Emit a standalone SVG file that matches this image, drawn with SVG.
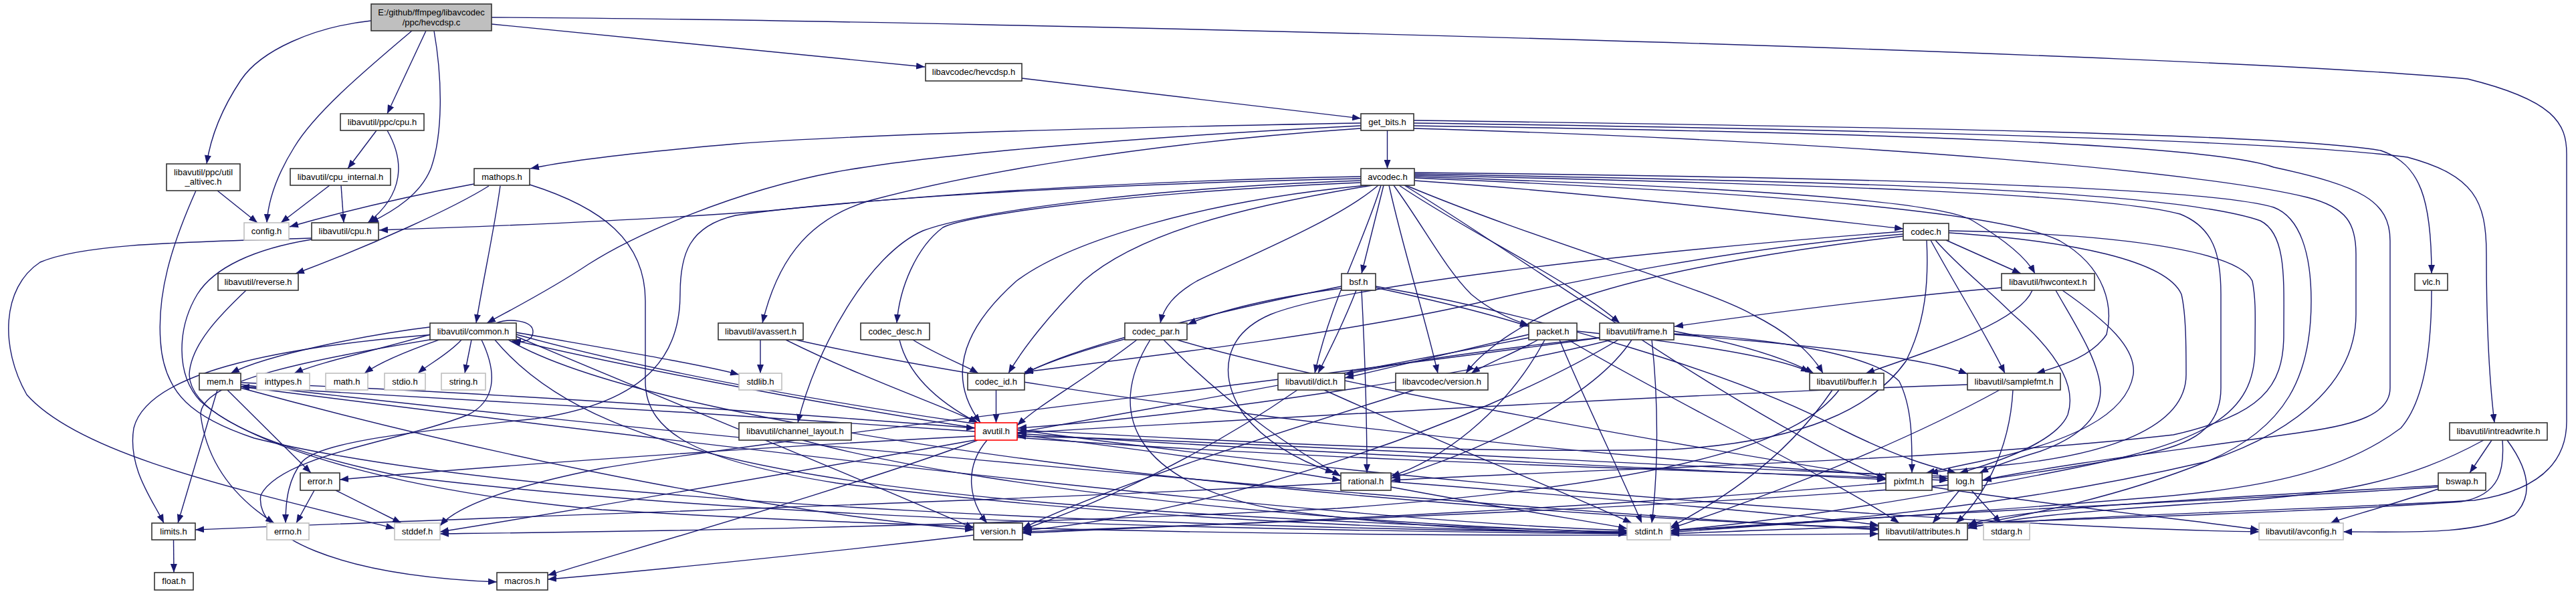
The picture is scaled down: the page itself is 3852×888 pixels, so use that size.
<svg xmlns="http://www.w3.org/2000/svg" width="3852" height="888" viewBox="0 0 3852 888">
<style>
.n rect{fill:#ffffff;stroke:#333333;stroke-width:1.6}
.s rect{fill:#ffffff;stroke:#bfbfbf;stroke-width:1.6}
.r rect{fill:#bfbfbf;stroke:#333333;stroke-width:1.6}
.m rect{fill:#ffffff;stroke:#ff0000;stroke-width:1.6}
text{font-family:"Liberation Sans",Arial,sans-serif;font-size:13px;fill:#000000;text-anchor:middle}
#edges path{fill:none;stroke:#191970;stroke-width:1.4;marker-end:url(#a)}
</style>
<defs>
<marker id="a" markerWidth="13" markerHeight="10" refX="13" refY="5" orient="auto" markerUnits="userSpaceOnUse"><path d="M0,0 L13,5 L0,10 z" fill="#191970" stroke="none"/></marker>
</defs>
<rect x="0" y="0" width="3852" height="888" fill="#ffffff"/>
<g id="edges">
<path d="M555,31 C470,40 390,75 360,120 C330,165 315,205 309,245"/>
<path d="M616,46 C540,110 470,170 440,220 C412,265 401,300 399,333"/>
<path d="M637,46 L579,170"/>
<path d="M649,46 C662,120 662,200 645,250 C630,290 590,315 553,333"/>
<path d="M735,36 L1383,100"/>
<path d="M735,26 C1500,30 3300,80 3690,118 C3820,150 3838,185 3838,230 L3838,630 C3838,700 3785,735 3700,748 C3400,765 3050,772 2943,788"/>
<path d="M1528,117 L2035,177"/>
<path d="M563,195 L520,252"/>
<path d="M579,195 C605,240 605,290 550,333"/>
<path d="M493,277 L420,333"/>
<path d="M510,277 L514,333"/>
<path d="M325,285 L385,333"/>
<path d="M293,285 C255,370 235,440 240,510 C245,590 290,625 380,655 C800,760 1900,792 2433,796"/>
<path d="M466,356 C300,362 130,362 60,392 C2,430 0,520 40,590 C120,680 350,730 590,790"/>
<path d="M466,358 C380,372 320,400 295,440 C265,490 262,560 300,600 C380,670 600,735 900,762 C1600,805 2400,802 2809,798"/>
<path d="M368,434 C330,470 285,515 283,560 C285,620 400,670 600,712 C1200,785 2000,794 2433,798"/>
<path d="M709,275 C600,295 500,320 433,339"/>
<path d="M731,278 C680,310 560,365 442,409"/>
<path d="M748,278 C738,350 722,420 712,483"/>
<path d="M792,276 C900,310 965,360 965,450 L965,570 C965,650 1050,690 1250,722 C1700,780 2200,793 2433,797"/>
<path d="M2035,184 C1700,190 1300,200 1100,215 C950,228 850,240 793,252"/>
<path d="M2035,188 C1700,205 1400,230 1250,257 C1100,285 950,350 880,395 C820,435 760,465 728,483"/>
<path d="M2035,192 C1700,215 1450,260 1300,300 C1200,330 1160,400 1140,483"/>
<path d="M2074.5,195 L2074.5,252"/>
<path d="M2114,180 C2700,188 3400,198 3560,225 C3620,245 3636,300 3636,409"/>
<path d="M2114,184 C2700,192 3400,208 3600,235 C3700,262 3718,300 3718,380 C3718,520 3725,590 3730,632"/>
<path d="M2114,188 C2800,198 3300,215 3400,250 C3530,278 3574,300 3574,360 L3574,580 C3574,620 3520,635 3450,645 C3300,668 3100,690 2964,718"/>
<path d="M2114,192 C2800,212 3300,258 3450,295 C3510,310 3523,335 3523,380 L3523,470 C3523,560 3450,640 3300,690 C3000,760 2700,784 2498,793"/>
<path d="M2035,264 C1600,272 1300,300 1150,315 C950,330 750,338 567,344"/>
<path d="M2035,267 C1600,276 1250,300 1100,322 C1030,338 1017,380 1017,440 C1017,520 980,600 800,626 C620,645 480,660 452,690 C432,715 427,745 427,782"/>
<path d="M2035,270 C1700,282 1450,318 1380,345 C1300,380 1220,520 1193,632"/>
<path d="M2035,273 C1700,287 1450,320 1410,340 C1370,370 1345,430 1341,483"/>
<path d="M2045,277 C1800,300 1600,360 1520,420 C1430,500 1420,570 1466,632"/>
<path d="M2052,277 C1850,310 1700,350 1620,420 C1570,470 1530,520 1508,558"/>
<path d="M2061,277 C2000,330 1850,390 1790,420 C1755,440 1740,460 1735,483"/>
<path d="M2065,277 C2040,360 1990,450 1966,558"/>
<path d="M2069,277 L2036,409"/>
<path d="M2077,277 C2100,380 2130,470 2150,558"/>
<path d="M2084,277 C2130,340 2160,400 2200,440 C2230,465 2260,478 2286,486"/>
<path d="M2092,277 C2200,350 2350,420 2422,483"/>
<path d="M2102,277 C2300,360 2550,430 2620,470 C2680,500 2710,530 2726,558"/>
<path d="M2115,270 C2400,290 2650,320 2846,342"/>
<path d="M2115,264 C2600,280 2900,300 2950,330 C3000,360 3030,385 3043,409"/>
<path d="M2115,266 C2700,290 3000,320 3080,360 C3150,400 3160,460 3150,500 C3130,530 3090,545 3045,558"/>
<path d="M2115,262 C2700,275 3150,290 3260,320 C3310,340 3321,380 3321,440 L3321,580 C3321,640 3280,665 3200,680 C3100,700 3000,712 2965,718"/>
<path d="M2115,260 C2800,272 3250,285 3380,330 C3420,350 3415,420 3415,500 C3415,580 3380,620 3250,650 C2900,690 2400,700 2081,718"/>
<path d="M2115,258 C2800,265 3300,280 3400,310 C3440,325 3456,380 3456,450 C3456,560 3420,640 3300,690 C3150,750 3000,775 2943,786"/>
<path d="M2100,277 C2300,400 2600,620 2820,716"/>
<path d="M2910,359 L3022,409"/>
<path d="M2881,359 C2884,420 2880,480 2850,540 C2800,610 2700,660 2500,672 C2100,680 1700,650 1522,643"/>
<path d="M2887,359 C2920,420 2970,500 2998,558"/>
<path d="M2894,359 C2930,400 2970,430 3010,470 C3080,530 3105,580 3092,620 C3075,660 2990,690 2930,707"/>
<path d="M2846,353 C2700,370 2500,400 2370,443 C2280,480 2220,520 2192,558"/>
<path d="M2846,350 C2600,370 2350,420 2200,455 C2000,500 1700,535 1532,556"/>
<path d="M2846,346 C2400,380 2000,430 1900,470 C1830,500 1820,560 1860,620 C1900,670 1960,695 1995,707"/>
<path d="M2914,348 C3100,360 3240,390 3262,440 C3269,470 3269,520 3269,560 C3269,640 3150,680 3000,695 C2950,700 2910,703 2885,707"/>
<path d="M2914,345 C3200,350 3350,380 3368,420 C3374,450 3372,480 3372,520 C3372,620 3300,660 3100,700 C2800,760 2600,785 2498,793"/>
<path d="M3039,434 C3020,480 2900,520 2790,558"/>
<path d="M2993,430 C2880,440 2700,460 2504,488"/>
<path d="M3074,434 C3100,480 3140,540 3141,584 C3140,630 3100,657 3050,675 C3000,690 2975,700 2960,707"/>
<path d="M3084,434 C3150,480 3195,520 3190,560 C3180,620 3100,660 2960,690 C2920,698 2900,703 2880,707"/>
<path d="M3636,434 C3636,520 3625,600 3590,640 C3510,700 3400,730 3200,745 C2900,770 2700,780 2498,796"/>
<path d="M3726,658 L3693,707"/>
<path d="M3749,658 C3780,700 3790,740 3760,770 C3700,800 3600,795 3504,795"/>
<path d="M3714,658 C3600,720 3500,740 3300,752 C3100,765 3000,775 2943,790"/>
<path d="M3742,658 C3745,700 3740,740 3680,750 C3400,770 2800,785 2498,798"/>
<path d="M3646,731 C3560,760 3500,775 3485,782"/>
<path d="M3646,728 C3400,745 2800,770 2498,794"/>
<path d="M3646,726 C3300,745 3000,760 2943,785"/>
<path d="M2392,505 C2000,560 1200,650 900,700 C750,730 680,760 658,786"/>
<path d="M2470,508 C2480,600 2480,700 2470,782"/>
<path d="M2410,508 C2200,560 1800,620 1522,640"/>
<path d="M2503,495 C2580,510 2660,530 2712,558"/>
<path d="M2400,504 C2250,520 2100,540 2011,560"/>
<path d="M2440,508 C2380,600 2200,680 2080,715"/>
<path d="M2503,500 C2700,515 2880,535 2942,559"/>
<path d="M2503,499 C2650,505 2800,530 2840,570 C2860,610 2859,660 2859,707"/>
<path d="M2420,508 C2200,640 1800,770 1530,793"/>
<path d="M2286,505 C1800,600 1000,740 658,795"/>
<path d="M2332,508 C2370,600 2420,700 2455,782"/>
<path d="M2345,508 C2500,600 2750,720 2840,782"/>
<path d="M2358,495 C2500,510 2650,530 2706,556"/>
<path d="M2286,500 C2200,520 2100,545 2011,565"/>
<path d="M2310,508 C2250,620 2150,690 2080,712"/>
<path d="M2300,508 C2260,530 2220,545 2200,558"/>
<path d="M2028,434 C2010,480 1990,520 1971,558"/>
<path d="M2057,428 C2300,470 2600,560 2750,640 C2850,690 2900,700 2925,707"/>
<path d="M2036,434 C2042,550 2044,650 2044,707"/>
<path d="M2006,428 C1800,470 1600,520 1530,560"/>
<path d="M2006,431 C1900,445 1820,465 1776,485"/>
<path d="M2057,430 C2150,450 2230,470 2286,488"/>
<path d="M1720,508 C1650,620 1700,720 1900,760 C2100,790 2300,795 2433,797"/>
<path d="M1700,508 C1620,570 1560,600 1521,636"/>
<path d="M1740,508 C1850,620 1950,680 2005,712"/>
<path d="M1760,508 C2000,580 2600,680 2820,715"/>
<path d="M1690,505 C1630,520 1570,540 1532,558"/>
<path d="M1345,508 C1360,570 1420,610 1462,632"/>
<path d="M1365,508 C1400,530 1440,545 1463,558"/>
<path d="M1489.5,583 L1489.5,632"/>
<path d="M2115,583 C1900,650 1650,730 1529,790"/>
<path d="M1980,583 C2150,660 2350,740 2440,782"/>
<path d="M1940,583 C1800,680 1650,750 1529,792"/>
<path d="M2750,583 C2700,650 2550,720 2000,760 C1400,790 900,795 658,798"/>
<path d="M2740,583 C2660,700 2550,760 2498,788"/>
<path d="M2942,575 C2500,590 2000,620 1522,647"/>
<path d="M3010,583 C3005,680 2960,750 2925,782"/>
<path d="M2990,583 C2850,660 2650,740 2498,790"/>
<path d="M1200,658 C1500,740 2100,790 2433,795"/>
<path d="M1460,640 C1200,600 900,540 766,508"/>
<path d="M1458,652 C1100,670 700,700 508,717"/>
<path d="M1521,650 C1700,670 1900,700 2005,718"/>
<path d="M1476,658 C1440,700 1450,750 1476,782"/>
<path d="M1462,658 C1300,720 950,820 819,860"/>
<path d="M1458,645 C1100,620 600,590 360,578"/>
<path d="M1521,654 C2000,690 2600,705 2913,718"/>
<path d="M1521,648 C2000,680 2500,700 2820,717"/>
<path d="M742,483 C760,476 797,478 797,496 C797,510 780,513 765,510"/>
<path d="M650,488 C550,500 400,530 345,558"/>
<path d="M660,495 C580,520 480,540 440,558"/>
<path d="M680,500 C620,520 570,540 545,558"/>
<path d="M690,508 C670,530 640,545 625,558"/>
<path d="M705,508 L695,558"/>
<path d="M772,497 C900,520 1050,545 1105,560"/>
<path d="M650,500 C400,520 220,560 200,640 C190,700 230,750 245,782"/>
<path d="M660,505 C450,540 300,570 300,620 C310,700 360,750 410,782"/>
<path d="M740,508 C900,700 1300,760 2433,796"/>
<path d="M760,508 C1000,650 2000,760 2809,790"/>
<path d="M720,508 C745,560 740,600 700,620 C600,660 420,680 390,740 C380,800 500,860 743,870"/>
<path d="M772,503 C1000,600 1300,720 1456,790"/>
<path d="M772,500 C1500,700 3000,790 3378,795"/>
<path d="M325,583 L266,782"/>
<path d="M340,583 L465,707"/>
<path d="M360,575 C1000,650 2200,760 2809,792"/>
<path d="M360,578 C1000,660 2000,780 2433,793"/>
<path d="M360,572 C800,590 1200,620 1458,640"/>
<path d="M360,580 C800,700 1200,770 1456,792"/>
<path d="M470,733 L443,782"/>
<path d="M502,733 L600,782"/>
<path d="M2080,728 C2250,760 2380,780 2433,790"/>
<path d="M2005,722 C1500,750 800,770 292,792"/>
<path d="M2080,720 C2400,745 2700,770 2809,785"/>
<path d="M2948,733 L2992,782"/>
<path d="M2930,733 L2890,782"/>
<path d="M2913,712 C2500,700 1900,660 1521,652"/>
<path d="M2913,725 C2500,760 1800,785 1529,795"/>
<path d="M2889,728 C3100,760 3300,780 3378,792"/>
<path d="M2820,722 C2400,760 1800,785 1529,797"/>
<path d="M1456,800 C1200,830 950,855 819,866"/>
<path d="M259.5,807 L260,856"/>
<path d="M1137,508 L1137,558"/>
<path d="M1175,508 C1300,570 1420,610 1462,632"/>
<path d="M1190,508 C1600,600 2400,690 2913,715"/>
</g>
<g id="n_root" class="r"><rect x="555" y="6" width="180" height="40"/><text x="645" y="23">E:/github/ffmpeg/libavcodec</text><text x="645" y="38">/ppc/hevcdsp.c</text></g>
<g id="n_hevcdsp" class="n"><rect x="1384" y="95" width="144" height="26"/><text x="1456" y="112">libavcodec/hevcdsp.h</text></g>
<g id="n_get_bits" class="n"><rect x="2035" y="170" width="79" height="25"/><text x="2074.5" y="187">get_bits.h</text></g>
<g id="n_ppc_cpu" class="n"><rect x="509" y="170" width="125" height="25"/><text x="571.5" y="187">libavutil/ppc/cpu.h</text></g>
<g id="n_mathops" class="n"><rect x="709" y="252" width="83" height="25"/><text x="750.5" y="269">mathops.h</text></g>
<g id="n_avcodec" class="n"><rect x="2035" y="252" width="80" height="25"/><text x="2075" y="269">avcodec.h</text></g>
<g id="n_util_altivec" class="n"><rect x="249" y="245" width="110" height="40"/><text x="304" y="262">libavutil/ppc/util</text><text x="304" y="276">_altivec.h</text></g>
<g id="n_cpu_internal" class="n"><rect x="434" y="252" width="150" height="25"/><text x="509" y="269">libavutil/cpu_internal.h</text></g>
<g id="n_config" class="s"><rect x="365" y="333" width="67" height="26"/><text x="398.5" y="350">config.h</text></g>
<g id="n_cpu" class="n"><rect x="466" y="333" width="100" height="26"/><text x="516" y="350">libavutil/cpu.h</text></g>
<g id="n_codec" class="n"><rect x="2846" y="334" width="68" height="25"/><text x="2880" y="351">codec.h</text></g>
<g id="n_reverse" class="n"><rect x="326" y="409" width="120" height="25"/><text x="386" y="426">libavutil/reverse.h</text></g>
<g id="n_bsf" class="n"><rect x="2006" y="409" width="51" height="25"/><text x="2031.5" y="426">bsf.h</text></g>
<g id="n_hwcontext" class="n"><rect x="2993" y="409" width="139" height="25"/><text x="3062.5" y="426">libavutil/hwcontext.h</text></g>
<g id="n_vlc" class="n"><rect x="3611" y="409" width="49" height="25"/><text x="3635.5" y="426">vlc.h</text></g>
<g id="n_common" class="n"><rect x="643" y="483" width="129" height="25"/><text x="707.5" y="500">libavutil/common.h</text></g>
<g id="n_avassert" class="n"><rect x="1074" y="483" width="127" height="25"/><text x="1137.5" y="500">libavutil/avassert.h</text></g>
<g id="n_codec_desc" class="n"><rect x="1287" y="483" width="103" height="25"/><text x="1338.5" y="500">codec_desc.h</text></g>
<g id="n_codec_par" class="n"><rect x="1682" y="483" width="93" height="25"/><text x="1728.5" y="500">codec_par.h</text></g>
<g id="n_packet" class="n"><rect x="2286" y="483" width="72" height="25"/><text x="2322" y="500">packet.h</text></g>
<g id="n_frame" class="n"><rect x="2392" y="483" width="111" height="25"/><text x="2447.5" y="500">libavutil/frame.h</text></g>
<g id="n_mem" class="n"><rect x="298" y="558" width="62" height="25"/><text x="329" y="575">mem.h</text></g>
<g id="n_inttypes" class="s"><rect x="384" y="558" width="79" height="25"/><text x="423.5" y="575">inttypes.h</text></g>
<g id="n_math" class="s"><rect x="487" y="558" width="63" height="25"/><text x="518.5" y="575">math.h</text></g>
<g id="n_stdio" class="s"><rect x="575" y="558" width="61" height="25"/><text x="605.5" y="575">stdio.h</text></g>
<g id="n_string" class="s"><rect x="660" y="558" width="66" height="25"/><text x="693" y="575">string.h</text></g>
<g id="n_stdlib" class="s"><rect x="1105" y="558" width="64" height="25"/><text x="1137" y="575">stdlib.h</text></g>
<g id="n_codec_id" class="n"><rect x="1447" y="558" width="85" height="25"/><text x="1489.5" y="575">codec_id.h</text></g>
<g id="n_dict" class="n"><rect x="1911" y="558" width="100" height="25"/><text x="1961" y="575">libavutil/dict.h</text></g>
<g id="n_lavc_version" class="n"><rect x="2087" y="558" width="138" height="25"/><text x="2156" y="575">libavcodec/version.h</text></g>
<g id="n_buffer" class="n"><rect x="2706" y="558" width="111" height="25"/><text x="2761.5" y="575">libavutil/buffer.h</text></g>
<g id="n_samplefmt" class="n"><rect x="2942" y="558" width="139" height="25"/><text x="3011.5" y="575">libavutil/samplefmt.h</text></g>
<g id="n_channel_layout" class="n"><rect x="1105" y="632" width="168" height="26"/><text x="1189" y="649">libavutil/channel_layout.h</text></g>
<g id="n_avutil" class="m"><rect x="1458" y="632" width="63" height="26"/><text x="1489.5" y="649">avutil.h</text></g>
<g id="n_intreadwrite" class="n"><rect x="3663" y="632" width="146" height="26"/><text x="3736" y="649">libavutil/intreadwrite.h</text></g>
<g id="n_error" class="n"><rect x="449" y="707" width="59" height="26"/><text x="478.5" y="724">error.h</text></g>
<g id="n_rational" class="n"><rect x="2005" y="707" width="75" height="26"/><text x="2042.5" y="724">rational.h</text></g>
<g id="n_pixfmt" class="n"><rect x="2820" y="707" width="69" height="26"/><text x="2854.5" y="724">pixfmt.h</text></g>
<g id="n_log" class="n"><rect x="2913" y="707" width="51" height="26"/><text x="2938.5" y="724">log.h</text></g>
<g id="n_bswap" class="n"><rect x="3646" y="707" width="71" height="26"/><text x="3681.5" y="724">bswap.h</text></g>
<g id="n_limits" class="n"><rect x="227" y="782" width="65" height="25"/><text x="259.5" y="799">limits.h</text></g>
<g id="n_errno" class="s"><rect x="399" y="782" width="63" height="25"/><text x="430.5" y="799">errno.h</text></g>
<g id="n_stddef" class="s"><rect x="590" y="782" width="68" height="25"/><text x="624" y="799">stddef.h</text></g>
<g id="n_version" class="n"><rect x="1456" y="782" width="73" height="25"/><text x="1492.5" y="799">version.h</text></g>
<g id="n_stdint" class="s"><rect x="2433" y="782" width="65" height="25"/><text x="2465.5" y="799">stdint.h</text></g>
<g id="n_attributes" class="n"><rect x="2809" y="782" width="133" height="25"/><text x="2875.5" y="799">libavutil/attributes.h</text></g>
<g id="n_stdarg" class="s"><rect x="2966" y="782" width="69" height="25"/><text x="3000.5" y="799">stdarg.h</text></g>
<g id="n_avconfig" class="s"><rect x="3378" y="782" width="126" height="25"/><text x="3441" y="799">libavutil/avconfig.h</text></g>
<g id="n_float" class="n"><rect x="231" y="856" width="58" height="26"/><text x="260" y="873">float.h</text></g>
<g id="n_macros" class="n"><rect x="743" y="856" width="76" height="26"/><text x="781" y="873">macros.h</text></g>
</svg>
